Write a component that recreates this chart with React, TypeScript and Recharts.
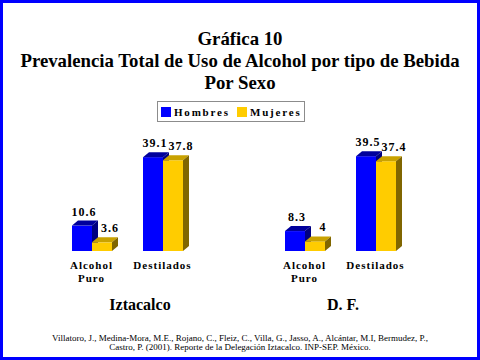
import { BarChart, Bar, XAxis, YAxis, LabelList } from 'recharts'

const FONT = "'Liberation Serif', 'Times New Roman', Times, 'DejaVu Serif', serif"

// ── data ─────────────────────────────────────────────────────────────────────
const categories = ['Alcohol Puro', 'Destilados']
const regions = ['Iztacalco', 'D. F.']
const hombresIztacalco = [10.6, 39.1]
const mujeresIztacalco = [3.6, 37.8]
const hombresDF = [8.3, 39.5]
const mujeresDF = [4, 37.4]

const titleLines = [
  'Gráfica 10',
  'Prevalencia Total de Uso de Alcohol por tipo de Bebida',
  'Por Sexo',
]
const footerLines = [
  'Villatoro, J., Medina-Mora, M.E., Rojano, C., Fleiz, C., Villa, G., Jasso, A., Alcántar, M.I, Bermudez, P.,',
  'Castro, P. (2001). Reporte de la Delegación Iztacalco. INP-SEP. México.',
]

const series = [
  { key: 'hombres', name: 'Hombres', front: '#0000ff', top: '#00009c', side: '#000080', labelDx: 2 },
  { key: 'mujeres', name: 'Mujeres', front: '#ffcc00', top: '#c9a200', side: '#806600', labelDx: 8 },
]

// depth of the fake 3D extrusion
const DX = 6
const DY = 5

const txt = (size: number, bold = true, spacing = 0) => ({
  fontFamily: FONT,
  fontWeight: bold ? 700 : 400,
  fontSize: size,
  letterSpacing: spacing,
})

function Bar3D(props: any) {
  const { x, y, width: w, height: h, front, top, side } = props
  if (h == null || w == null) return null
  return (
    <g>
      <rect x={x} y={y} width={w} height={h} fill={front} />
      <polygon
        points={`${x},${y} ${x + DX},${y - DY} ${x + w + DX},${y - DY} ${x + w},${y}`}
        fill={top}
      />
      <polygon
        points={`${x + w},${y} ${x + w + DX},${y - DY} ${x + w + DX},${y + h - DY} ${x + w},${y + h}`}
        fill={side}
      />
    </g>
  )
}

function CatTick(props: any) {
  const { x, y, payload } = props
  const words = String(payload.value).split(' ')
  return (
    <text x={x} y={y} textAnchor="middle" fill="#000" style={txt(11, true, 1)}>
      {words.map((w, i) => (
        <tspan key={i} x={x} dy={i === 0 ? 10 : 13}>
          {w}
        </tspan>
      ))}
    </text>
  )
}

function RegionChart({ left, hombres, mujeres }: { left: number; hombres: number[]; mujeres: number[] }) {
  const data = categories.map((c, i) => ({ cat: c, hombres: hombres[i], mujeres: mujeres[i] }))
  return (
    <div style={{ position: 'absolute', left, top: 130 }}>
      <BarChart
        width={162}
        height={161}
        data={data}
        margin={{ top: 13, right: 20, left: 0, bottom: 0 }}
        barGap={0}
        barSize={20}
      >
        <XAxis dataKey="cat" axisLine={false} tickLine={false} height={40} interval={0} tick={<CatTick />} />
        <YAxis hide domain={[0, 45]} />
        {series.map((s) => (
          <Bar
            key={s.key}
            dataKey={s.key}
            isAnimationActive={false}
            shape={(p: any) => <Bar3D {...p} front={s.front} top={s.top} side={s.side} />}
          >
            <LabelList
              dataKey={s.key}
              content={(p: any) => (
                <text
                  x={p.x + p.width / 2 + s.labelDx}
                  y={p.y - 10}
                  textAnchor="middle"
                  fill="#000"
                  style={txt(12, true, 1)}
                >
                  {p.value}
                </text>
              )}
            />
          </Bar>
        ))}
      </BarChart>
    </div>
  )
}

export default function App() {
  return (
    <div
      style={{
        position: 'fixed',
        left: 0,
        top: 0,
        width: 480,
        height: 360,
        background: '#fff',
        boxShadow: 'inset 0 0 0 3px #0000ff',
        fontFamily: FONT,
      }}
    >
      <svg width={480} height={360} style={{ position: 'absolute', left: 0, top: 0 }}>
        {titleLines.map((t, i) => (
          <text key={i} x={240} y={45 + i * 22} textAnchor="middle" style={txt(18.8)}>
            {t}
          </text>
        ))}

        {/* legend */}
        <rect x={157.5} y={101.5} width={147} height={20} fill="#fff" stroke="#8c8c8c" />
        {series.map((s, i) => (
          <g key={s.key}>
            <rect x={161 + i * 76} y={107} width={10} height={10} fill={s.front} />
            <text x={174 + i * 76} y={116} style={txt(11, true, 1.8)}>
              {s.name}
            </text>
          </g>
        ))}

        {regions.map((r, i) => (
          <text key={r} x={i === 0 ? 140 : 343} y={310} textAnchor="middle" style={txt(16)}>
            {r}
          </text>
        ))}

        {footerLines.map((t, i) => (
          <text key={i} x={240} y={341 + i * 9} textAnchor="middle" style={txt(9, false)}>
            {t}
          </text>
        ))}
      </svg>

      <RegionChart left={56} hombres={hombresIztacalco} mujeres={mujeresIztacalco} />
      <RegionChart left={269} hombres={hombresDF} mujeres={mujeresDF} />
    </div>
  )
}
